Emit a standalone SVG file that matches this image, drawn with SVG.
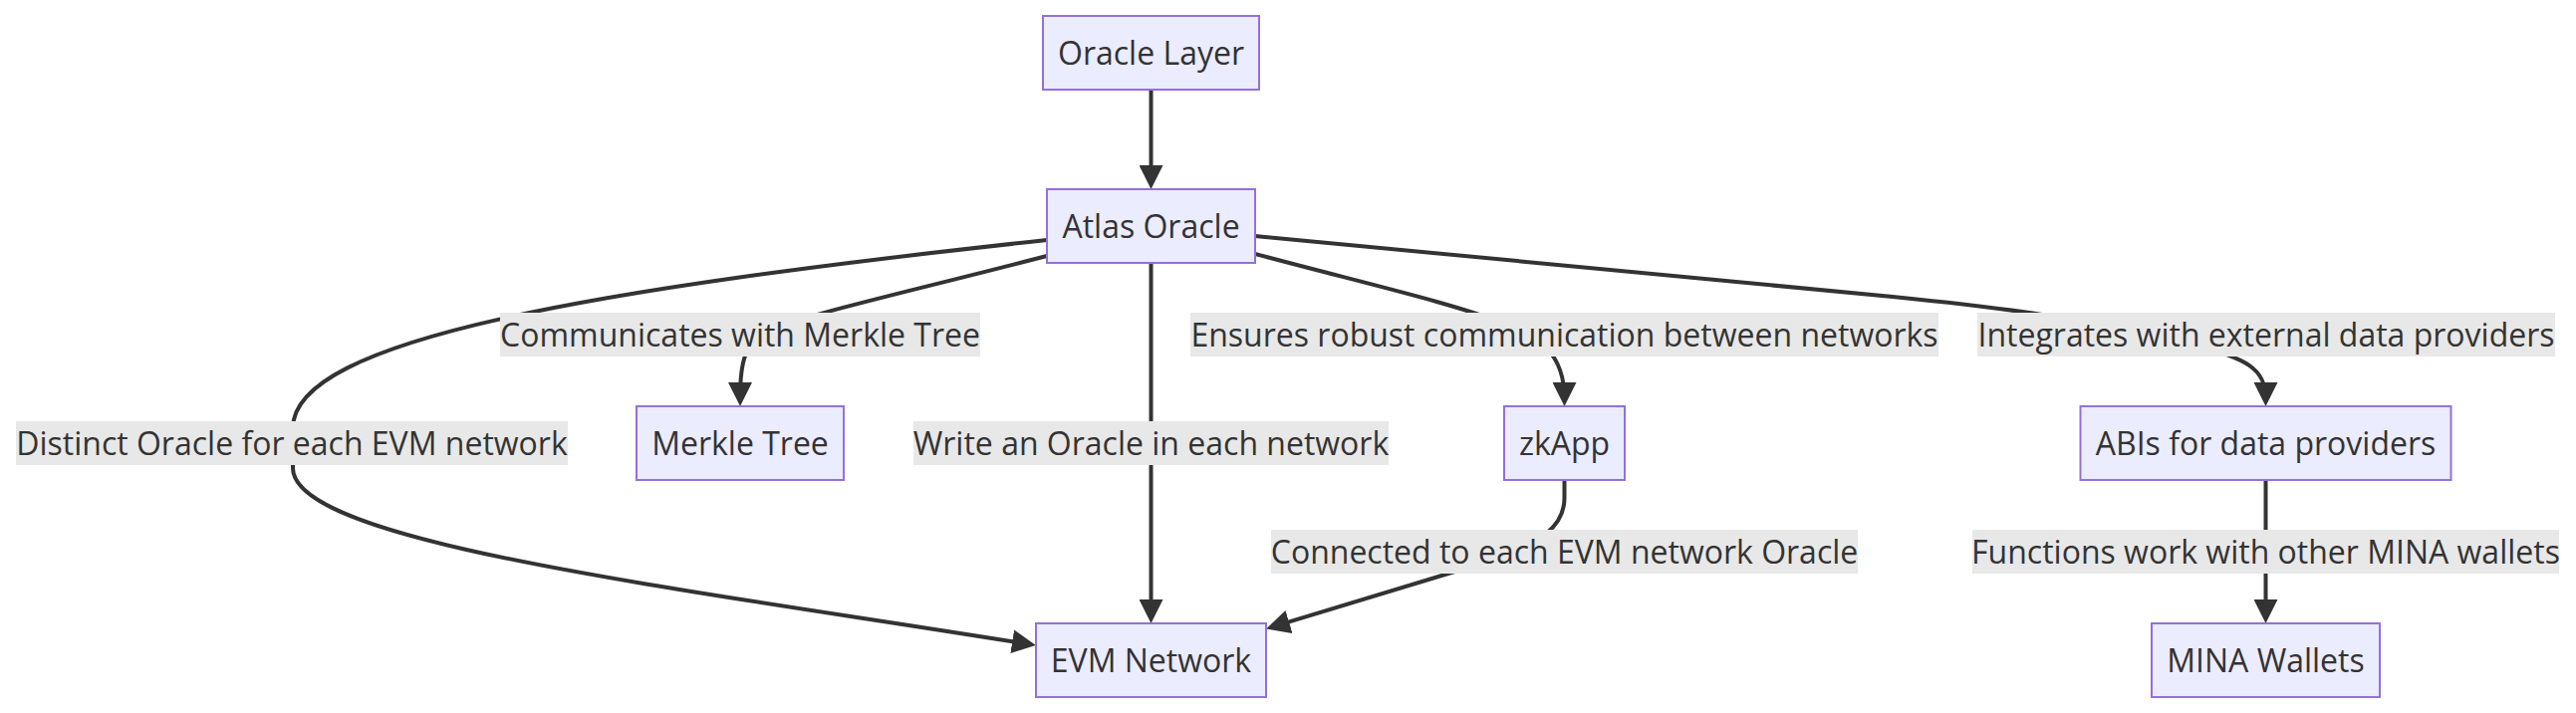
<svg xmlns="http://www.w3.org/2000/svg" width="2586" height="716" viewBox="0 0 2586 716">
<style>
.node rect{fill:#ECECFF;stroke:#9370DB;stroke-width:2}
.node text,.elabel text{font-family:"Open Sans","Liberation Sans",sans-serif;font-size:32px;fill:#333333;text-anchor:middle}
.elabel rect{fill:#E8E8E8;stroke:none}
.edge{fill:none;stroke:#333333;stroke-width:4}
</style>
<defs>
<marker id="arrow" viewBox="0 0 10 10" refX="6.67" refY="5" markerWidth="24" markerHeight="24" markerUnits="userSpaceOnUse" orient="auto">
<path d="M0,0 L10,5 L0,10 z" fill="#333333"/>
</marker>
</defs>
<rect width="2586" height="716" fill="#ffffff"/>
<g id="connectors">
<path class="edge" marker-end="url(#arrow)" d="M1155.5,90 L1155.5,182"/>
<path class="edge" marker-end="url(#arrow)" d="M1051,257 C900,296 800,318 770,333 C748,345 743,362 743,400"/>
<path class="edge" marker-end="url(#arrow)" d="M1051,241 C600,290 294,340 294,430 L294,470 C294,545 680,590 1032,646.8"/>
<path class="edge" marker-end="url(#arrow)" d="M1155.5,264 L1155.5,618"/>
<path class="edge" marker-end="url(#arrow)" d="M1260,255 C1380,287 1460,305 1510,325 C1545,338 1570.5,355 1570.5,400"/>
<path class="edge" marker-end="url(#arrow)" d="M1260,237 L1900,298 C2000,308 2100,320 2200,345 C2255,360 2274.5,370 2274.5,400"/>
<path class="edge" marker-end="url(#arrow)" d="M1570.5,482 L1570.5,500 C1570.5,530 1545,545 1500,562 L1278.7,629.2"/>
<path class="edge" marker-end="url(#arrow)" d="M2274.5,482 L2274.5,618"/>
</g>
<g id="edge-labels">
<g class="elabel" id="label-communicates"><rect x="502" y="314" width="482" height="44"/><text x="743" y="348.4">Communicates with Merkle Tree</text></g>
<g class="elabel" id="label-ensures"><rect x="1195" y="314" width="751" height="44"/><text x="1570.5" y="348.4">Ensures robust communication between networks</text></g>
<g class="elabel" id="label-integrates"><rect x="1985" y="314" width="580" height="44"/><text x="2275" y="348.4">Integrates with external data providers</text></g>
<g class="elabel" id="label-distinct"><rect x="16" y="423" width="554" height="44"/><text x="293" y="457.4">Distinct Oracle for each EVM network</text></g>
<g class="elabel" id="label-write"><rect x="917" y="423" width="477" height="44"/><text x="1155.5" y="457.4">Write an Oracle in each network</text></g>
<g class="elabel" id="label-connected"><rect x="1276" y="532" width="589" height="44"/><text x="1570.5" y="566.4">Connected to each EVM network Oracle</text></g>
<g class="elabel" id="label-functions"><rect x="1980" y="532" width="589" height="44"/><text x="2274.5" y="566.4">Functions work with other MINA wallets</text></g>
</g>
<g class="node" id="oracle-layer"><rect x="1047" y="16" width="217" height="74"/><text x="1155.5" y="65.4">Oracle Layer</text></g>
<g class="node" id="atlas-oracle"><rect x="1051" y="190" width="209" height="74"/><text x="1155.5" y="239.4">Atlas Oracle</text></g>
<g class="node" id="merkle-tree"><rect x="639" y="408" width="208" height="74"/><text x="743" y="457.4">Merkle Tree</text></g>
<g class="node" id="zkapp"><rect x="1510" y="408" width="121" height="74"/><text x="1570.5" y="457.4">zkApp</text></g>
<g class="node" id="abis"><rect x="2088.5" y="408" width="372" height="74"/><text x="2274.5" y="457.4">ABIs for data providers</text></g>
<g class="node" id="evm-network"><rect x="1040" y="626" width="231" height="74"/><text x="1155.5" y="675.4">EVM Network</text></g>
<g class="node" id="mina-wallets"><rect x="2160" y="626" width="229" height="74"/><text x="2274.5" y="675.4">MINA Wallets</text></g>
</svg>
